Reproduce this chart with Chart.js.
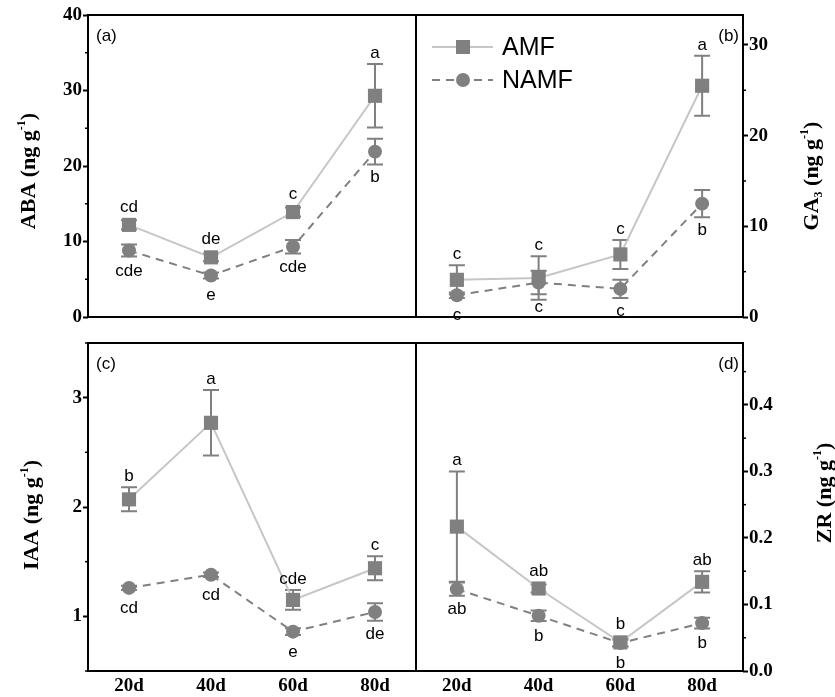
<!DOCTYPE html>
<html lang="en">
<head>
<meta charset="UTF-8" />
<title>Hormones: AMF vs NAMF</title>
<style>
  body { margin: 0; background: #fff; }
  .wrap { position: relative; width: 835px; height: 697px; }
  .wrap canvas { position: absolute; left: 0; top: 0; }
</style>
</head>
<body>
<div class="wrap">
  <canvas id="chartA" width="835" height="697"></canvas>
  <canvas id="chartB" width="835" height="697"></canvas>
  <canvas id="chartC" width="835" height="697"></canvas>
  <canvas id="chartD" width="835" height="697"></canvas>
</div>
<script src="https://cdn.jsdelivr.net/npm/chart.js@4.4.0/dist/chart.umd.min.js"></script>
<script>
// ---- data ----
const days = ["20d", "40d", "60d", "80d"];

const abaAMF = [12.2, 7.9, 13.9, 29.3];
const abaAMFErr = [0.6, 0.5, 0.6, 4.2];
const abaNAMF = [8.8, 5.5, 9.3, 21.9];
const abaNAMFErr = [0.8, 0.4, 0.9, 1.7];
const abaAMFLetters = ["cd", "de", "c", "a"];
const abaNAMFLetters = ["cde", "e", "cde", "b"];

const ga3AMF = [4.1, 4.3, 6.9, 25.5];
const ga3AMFErr = [1.6, 2.4, 1.6, 3.3];
const ga3NAMF = [2.4, 3.8, 3.1, 12.5];
const ga3NAMFErr = [0.3, 1.3, 1.0, 1.5];
const ga3AMFLetters = ["c", "c", "c", "a"];
const ga3NAMFLetters = ["c", "c", "c", "b"];

const iaaAMF = [2.07, 2.77, 1.15, 1.44];
const iaaAMFErr = [0.11, 0.3, 0.09, 0.11];
const iaaNAMF = [1.26, 1.38, 0.86, 1.04];
const iaaNAMFErr = [0.02, 0.02, 0.03, 0.08];
const iaaAMFLetters = ["b", "a", "cde", "c"];
const iaaNAMFLetters = ["cd", "cd", "e", "de"];

const zrAMF = [0.217, 0.124, 0.043, 0.134];
const zrAMFErr = [0.083, 0.006, 0.006, 0.016];
const zrNAMF = [0.123, 0.083, 0.042, 0.072];
const zrNAMFErr = [0.01, 0.008, 0.005, 0.008];
const zrAMFLetters = ["a", "ab", "b", "ab"];
const zrNAMFLetters = ["ab", "b", "b", "b"];

const grey = "#808080";
const lightGrey = "#c6c6c6";
const serif = "'Liberation Serif', 'Times New Roman', serif";
const sans = "'Liberation Sans', Arial, sans-serif";

// rotated axis title with sub/superscripts
function drawTitle(ctx, x, y, parts) {
  ctx.save();
  ctx.translate(x, y);
  ctx.rotate(-Math.PI / 2);
  ctx.fillStyle = "#000";
  ctx.textBaseline = "alphabetic";
  ctx.textAlign = "left";
  let w = 0;
  parts.forEach((p) => {
    ctx.font = p.font;
    w += ctx.measureText(p.t).width;
  });
  let cx = -w / 2;
  parts.forEach((p) => {
    ctx.font = p.font;
    ctx.fillText(p.t, cx, p.dy || 0);
    cx += ctx.measureText(p.t).width;
  });
  ctx.restore();
}

const bigF = "bold 22px " + serif;
const supF = "bold 12px " + serif;

function makePanel(id, cfg) {
  const panelPlugin = {
    id: "panel_" + id,
    beforeDatasetsDraw(chart) {
      const ctx = chart.ctx;
      const ys = chart.scales.y;
      ctx.save();
      ctx.strokeStyle = grey;
      ctx.lineWidth = 2;
      [cfg.amfErr, cfg.namfErr].forEach((errs, i) => {
        const vals = chart.data.datasets[i].data;
        chart.getDatasetMeta(i).data.forEach((pt, j) => {
          const top = ys.getPixelForValue(vals[j] + errs[j]);
          const bot = ys.getPixelForValue(vals[j] - errs[j]);
          ctx.beginPath();
          ctx.moveTo(pt.x, top);
          ctx.lineTo(pt.x, bot);
          ctx.moveTo(pt.x - 8, top);
          ctx.lineTo(pt.x + 8, top);
          ctx.moveTo(pt.x - 8, bot);
          ctx.lineTo(pt.x + 8, bot);
          ctx.stroke();
        });
      });
      ctx.restore();
    },
    afterDatasetsDraw(chart) {
      const ctx = chart.ctx;
      const ys = chart.scales.y;
      ctx.save();
      ctx.fillStyle = "#000";
      ctx.font = "17px " + sans;
      ctx.textAlign = "center";
      ctx.textBaseline = "alphabetic";
      // AMF letters above, NAMF letters below
      chart.getDatasetMeta(0).data.forEach((pt, j) => {
        const top = Math.min(ys.getPixelForValue(cfg.amf[j] + cfg.amfErr[j]), pt.y - 7);
        ctx.fillText(cfg.amfLetters[j], pt.x, top - 6);
      });
      chart.getDatasetMeta(1).data.forEach((pt, j) => {
        const bot = Math.max(ys.getPixelForValue(cfg.namf[j] - cfg.namfErr[j]), pt.y + 7);
        ctx.fillText(cfg.namfLetters[j], pt.x, bot + 18);
      });
      ctx.restore();
    },
    afterDraw(chart) {
      const ctx = chart.ctx;
      const a = chart.chartArea;
      const ys = chart.scales.y;
      ctx.save();
      ctx.strokeStyle = "#000";
      ctx.lineWidth = 2;
      ctx.strokeRect(a.left, a.top, a.right - a.left, a.bottom - a.top);

      // short minor ticks (unlabelled ones)
      ctx.lineWidth = 1.5;
      ys.ticks.forEach((t, i) => {
        if (t.label !== "") return;
        const y = ys.getPixelForTick(i);
        const x0 = cfg.right ? a.right : a.left;
        const x1 = cfg.right ? a.right + 3 : a.left - 3;
        ctx.beginPath();
        ctx.moveTo(x0, y);
        ctx.lineTo(x1, y);
        ctx.stroke();
      });

      ctx.fillStyle = "#000";
      ctx.font = "17px " + sans;
      ctx.textBaseline = "middle";
      if (cfg.right) {
        ctx.textAlign = "right";
        ctx.fillText(cfg.tag, a.right - 4, a.top + 21);
      } else {
        ctx.textAlign = "left";
        ctx.fillText(cfg.tag, a.left + 8, a.top + 21);
      }

      drawTitle(ctx, cfg.titleX, cfg.titleY, cfg.title);

      if (cfg.legend) {
        const rows = [
          { y: a.top + 32, ds: chart.data.datasets[0], name: "AMF" },
          { y: a.top + 65, ds: chart.data.datasets[1], name: "NAMF" },
        ];
        rows.forEach((r) => {
          ctx.strokeStyle = r.ds.borderColor;
          ctx.lineWidth = 2;
          ctx.setLineDash(r.ds.borderDash || []);
          ctx.beginPath();
          ctx.moveTo(a.left + 16, r.y);
          ctx.lineTo(a.left + 77, r.y);
          ctx.stroke();
          ctx.setLineDash([]);
          ctx.fillStyle = grey;
          if (r.ds.pointStyle === "rect") {
            ctx.fillRect(a.left + 40, r.y - 7, 14, 14);
          } else {
            ctx.beginPath();
            ctx.arc(a.left + 47, r.y, 7, 0, Math.PI * 2);
            ctx.fill();
          }
          ctx.fillStyle = "#000";
          ctx.font = "25px " + sans;
          ctx.textAlign = "left";
          ctx.textBaseline = "middle";
          ctx.fillText(r.name, a.left + 86, r.y + 1);
        });
      }
      ctx.restore();
    },
  };

  return new Chart(document.getElementById(id), {
    type: "line",
    data: {
      labels: days,
      datasets: [
        {
          label: "AMF",
          data: cfg.amf,
          borderColor: lightGrey,
          borderWidth: 2,
          pointStyle: "rect",
          pointRadius: 10,
          pointBackgroundColor: grey,
          pointBorderColor: grey,
          pointBorderWidth: 0,
          tension: 0,
        },
        {
          label: "NAMF",
          data: cfg.namf,
          borderColor: grey,
          borderWidth: 2,
          borderDash: [8, 6],
          pointStyle: "circle",
          pointRadius: 7,
          pointBackgroundColor: grey,
          pointBorderColor: grey,
          pointBorderWidth: 0,
          tension: 0,
        },
      ],
    },
    options: {
      responsive: false,
      animation: false,
      layout: { padding: cfg.pad },
      plugins: {
        legend: { display: false },
        tooltip: { enabled: false },
      },
      scales: {
        x: {
          display: cfg.showX,
          offset: true,
          grid: { display: false, drawTicks: false },
          border: { display: false },
          ticks: {
            color: "#000",
            font: { family: serif, size: 19, weight: "bold" },
            padding: 4,
          },
          afterFit: (scale) => {
            scale.height = 26;
          },
        },
        y: {
          position: cfg.right ? "right" : "left",
          min: cfg.min,
          max: cfg.max,
          grid: {
            drawOnChartArea: false,
            drawTicks: true,
            tickLength: 5,
            tickWidth: 2,
            // minor ticks are drawn shorter by the plugin
            tickColor: (c) => (c.tick && c.tick.label === "" ? "rgba(0,0,0,0)" : "#000"),
          },
          border: { display: false },
          ticks: {
            stepSize: cfg.step,
            autoSkip: false,
            includeBounds: false,
            color: "#000",
            padding: 1,
            font: { family: serif, size: 19, weight: "bold" },
            callback: cfg.fmt,
          },
          afterFit: (scale) => {
            scale.width = cfg.right ? 60 : 88;
          },
        },
      },
    },
    plugins: [panelPlugin],
  });
}

makePanel("chartA", {
  amf: abaAMF, amfErr: abaAMFErr, namf: abaNAMF, namfErr: abaNAMFErr,
  amfLetters: abaAMFLetters, namfLetters: abaNAMFLetters,
  min: 0, max: 40, step: 5,
  fmt: (v) => (v % 10 === 0 ? v : ""),
  pad: { left: 0, right: 419, top: 15, bottom: 354 },
  showX: false, right: false, tag: "(a)",
  titleX: 35, titleY: 171,
  title: [{ t: "ABA (ng g", font: bigF }, { t: "-1", font: supF, dy: -10 }, { t: ")", font: bigF }],
});

makePanel("chartB", {
  amf: ga3AMF, amfErr: ga3AMFErr, namf: ga3NAMF, namfErr: ga3NAMFErr,
  amfLetters: ga3AMFLetters, namfLetters: ga3NAMFLetters,
  min: 0, max: 33.3, step: 5,
  fmt: (v) => (v % 10 === 0 ? v : ""),
  pad: { left: 416, right: 32, top: 15, bottom: 354 },
  showX: false, right: true, tag: "(b)", legend: true,
  titleX: 818, titleY: 176,
  title: [
    { t: "GA", font: bigF }, { t: "3", font: supF, dy: 4 },
    { t: " (ng g", font: bigF }, { t: "-1", font: supF, dy: -10 }, { t: ")", font: bigF },
  ],
});

makePanel("chartC", {
  amf: iaaAMF, amfErr: iaaAMFErr, namf: iaaNAMF, namfErr: iaaNAMFErr,
  amfLetters: iaaAMFLetters, namfLetters: iaaNAMFLetters,
  min: 0.5, max: 3.5, step: 0.5,
  fmt: (v) => (Number.isInteger(v) ? v : ""),
  pad: { left: 0, right: 419, top: 343, bottom: 0 },
  showX: true, right: false, tag: "(c)",
  titleX: 38, titleY: 515,
  title: [{ t: "IAA (ng g", font: bigF }, { t: "-1", font: supF, dy: -10 }, { t: ")", font: bigF }],
});

makePanel("chartD", {
  amf: zrAMF, amfErr: zrAMFErr, namf: zrNAMF, namfErr: zrNAMFErr,
  amfLetters: zrAMFLetters, namfLetters: zrNAMFLetters,
  min: 0, max: 0.493, step: 0.05,
  fmt: (v) => {
    const k = Math.round(v * 100);
    return k % 10 === 0 ? (k / 100).toFixed(1) : "";
  },
  pad: { left: 416, right: 32, top: 343, bottom: 0 },
  showX: true, right: true, tag: "(d)",
  titleX: 831, titleY: 493,
  title: [{ t: "ZR (ng g", font: bigF }, { t: "-1", font: supF, dy: -10 }, { t: ")", font: bigF }],
});
</script>
</body>
</html>
